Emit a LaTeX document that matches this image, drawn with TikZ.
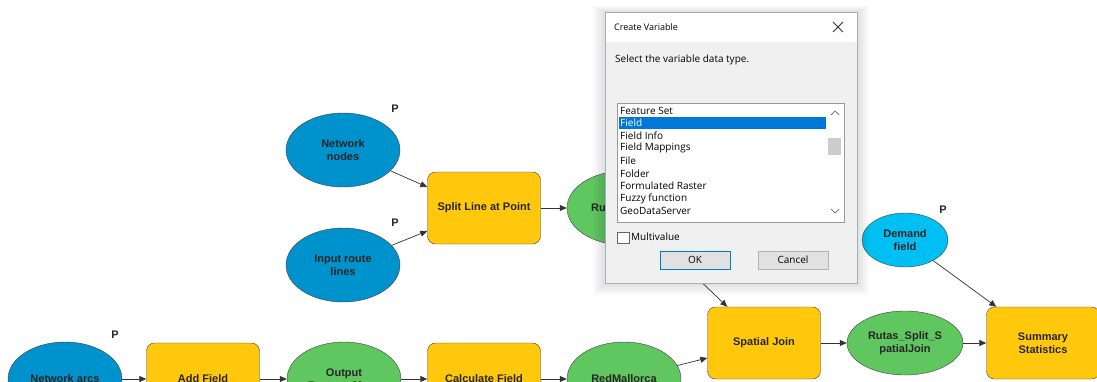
\documentclass[tikz,border=0pt]{standalone}
\usepackage{fontspec}
\setmainfont{Liberation Sans}
\newfontfamily\uifont{Open Sans}
\usepackage{tikz}
\usetikzlibrary{arrows.meta, positioning, shapes.geometric}
\definecolor{inblue}{RGB}{0,146,204}
\definecolor{parcyan}{RGB}{0,191,243}
\definecolor{toolyellow}{RGB}{255,200,12}
\definecolor{outgreen}{RGB}{96,198,96}
\definecolor{dlggray}{RGB}{240,240,240}
\definecolor{dlgedge}{RGB}{160,175,190}
\definecolor{selblue}{RGB}{0,120,215}
\definecolor{btngray}{RGB}{225,225,225}
\tikzset{
  label/.style={font=\bfseries\fontsize{11}{13}\selectfont, align=center, text=black!85},
  tool/.style={label, rectangle, rounded corners=8pt, draw=black!75, fill=toolyellow,
               minimum width=113pt, minimum height=72pt},
  indata/.style={label, ellipse, draw=black!75, fill=inblue, inner sep=0pt,
                 minimum width=114pt, minimum height=74pt},
  outdata/.style={indata, fill=outgreen},
  param/.style={indata, fill=parcyan, minimum width=86pt, minimum height=54pt},
  pmark/.style={label},
  flow/.style={-{Triangle[length=7pt,width=6pt]}, black!80, line width=0.7pt},
  uitext/.style={font=\uifont\fontsize{10}{12}\selectfont, anchor=west, inner sep=0pt},
  button/.style={rectangle, draw=black!30, fill=btngray, minimum width=70pt, minimum height=18pt,
                 font=\uifont\fontsize{10}{12}\selectfont},
}
\begin{document}
\begin{tikzpicture}[x=1pt, y=-1pt]
\useasboundingbox (0,0) rectangle (1097,381);
\clip (0,0) rectangle (1097,381);
\fill[white] (0,0) rectangle (1097,381);

\node[indata] (nn) at (343,150) {Network\\nodes};
\node[indata] (irl) at (343,265) {Input route\\lines};
\node[tool] (split) at (484,208) {Split Line at Point};
\node[outdata] (ru) at (624,208) {};
\node[label, anchor=west, inner sep=0pt] (rutext) at (591,208) {Ru};
\node[indata] (narcs) at (65,379) {Network arcs};
\node[tool] (addf) at (203,379) {Add Field};
\node[outdata] (ofc) at (344,379) {Output\\Feature Class};
\node[tool] (calc) at (484,379) {Calculate Field};
\node[outdata] (redm) at (624,379) {RedMallorca};
\node[tool] (sj) at (764,343) {Spatial Join};
\node[outdata, minimum width=116pt, minimum height=64pt] (rsj) at (905,343) {Rutas\_Split\_S\\patialJoin};
\node[tool] (ss) at (1043,343) {Summary\\Statistics};
\node[param] (dem) at (905,240) {Demand\\field};

\node[pmark] (p1) at (395,109) {P};
\node[pmark] (p2) at (395,223) {P};
\node[pmark] (p3) at (115,335) {P};
\node[pmark] (p4) at (943,210) {P};

\draw[flow] (nn) -- ([yshift=21pt]split.west);
\draw[flow] (irl) -- ([yshift=-23pt]split.west);
\draw[flow] (split) -- (ru);
\draw[flow] (ru) -- ([xshift=20pt]sj.north west);
\draw[flow] (narcs) -- (addf);
\draw[flow] (addf) -- (ofc);
\draw[flow] (ofc) -- (calc);
\draw[flow] (calc) -- (redm);
\draw[flow] (redm) -- ([yshift=-15pt]sj.west);
\draw[flow] (sj) -- (rsj);
\draw[flow] (rsj) -- (ss);
\draw[flow] (dem) -- ([xshift=10pt]ss.north west);

\foreach \s in {2,4,...,12}
  \fill[black, opacity=0.02] ({605-\s},{12-\s/2}) rectangle ({857+\s},{283+\s});
\draw[dlgedge, fill=dlggray] (605,12) rectangle (857,283);
\fill[white] (605.5,12.5) rectangle (856.5,42);
\node[uitext, font=\uifont\fontsize{9}{11}\selectfont] (dtitle) at (614,27) {Create Variable};
\draw[black!80, line width=0.8pt] (833,22) -- (843,32) (833,32) -- (843,22);
\node[uitext] (dprompt) at (615,60) {Select the variable data type.};
\draw[black!40, fill=white] (617,103) rectangle (844,222);
\fill[selblue] (619,117) rectangle (826,129);
\foreach \t/\c [count=\i] in {Feature Set/black, Field/white, Field Info/black,
    Field Mappings/black, File/black, Folder/black, Formulated Raster/black,
    Fuzzy function/black, GeoDataServer/black}
  \node[uitext, text=\c] (item\i) at (620,{110.5+(\i-1)*12.6}) {\t};
\draw[black!60, line width=0.7pt] (831,115) -- (835,111) -- (839,115);
\fill[black!20] (828,138) rectangle (841,155);
\draw[black!60, line width=0.7pt] (831,209) -- (835,213) -- (839,209);
\draw[black!60, fill=white] (617,232) rectangle (629,243);
\node[uitext] (multi) at (631,237) {Multivalue};
\node[button, draw=selblue, line width=1pt] (ok) at (695,260) {OK};
\node[button] (cancel) at (793,260) {Cancel};
\end{tikzpicture}
\end{document}
